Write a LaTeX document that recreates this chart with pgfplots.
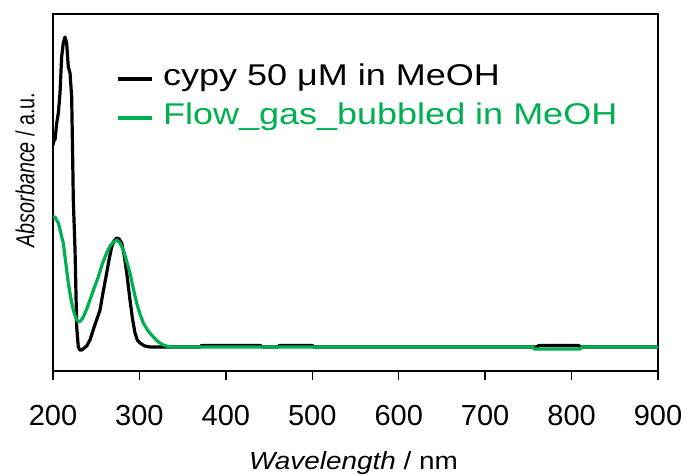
\documentclass[border=0pt]{standalone}
\usepackage{pgfplots}
\pgfplotsset{compat=1.18}
\usepackage{fontspec}
\setmainfont{Liberation Sans}
\newfontfamily\legfont[FakeStretch=1.2]{Liberation Sans}
\newfontfamily\xlabfont[FakeStretch=1.13]{Liberation Sans}
\newfontfamily\ylabfont[FakeStretch=0.76]{Liberation Sans}
\definecolor{flowgreen}{RGB}{0,176,80}

% legend samples: the invisible path lifts the cell's box so the bar sits lower
\pgfplotsset{
  leg black/.style={legend image code/.code={%
    \draw[##1, line width=4.2pt] (0pt,0pt) -- (34pt,0pt); \path (0pt,8pt);}},
  leg green/.style={legend image code/.code={%
    \draw[##1, line width=4.2pt] (0pt,0pt) -- (34pt,0pt); \path (0pt,11pt);}},
}

% UV-vis spectra (arbitrary absorbance units)
\pgfplotstableread{
nm    A
200   226
201.2 231
202.3 231
204.3 248
206.2 258
208.1 278
210.0 314
211.9 328
213.9 334
215.8 328
217.7 304
219.7 298
221.6 274
222.8 211
223.5 171
225.5 121
227.4 44
229.3 24
231   21
233.2 21
236   23
239   25
242.8 31
248   45
254.4 61
258   79
262.1 98
265   112
267.9 124
270.5 130
273.7 133
276.5 132
279.5 128
282.5 115
285.3 98
289.1 71
292   52
294.9 38
297.5 31
300.7 28
306   25
312.2 24
370   24
372   25.5
440   25.5
442   24
460   24
462   25.5
500   25.5
502   24
760   24
762   25.5
808   25.5
810   24
900   24
}\cypy

\pgfplotstableread{
nm    A
200   154
202.3 154
204   151
206.2 148
209   138
211.9 128
214.8 108
217.7 88
220.6 73
223.5 61
226.4 53
229.3 49
232   50
235.1 54
239   62
242.8 71
247.6 83
252.4 94
257   107
262.1 118
266   125
269.8 129
273.7 131
277.5 128
281.3 121
285.2 110
289.1 98
293   82
296.8 68
300.6 57
304.5 48
310   40
316.0 34
322   29
327.6 26
335.4 24
755   24
757   22
810   22
812   24
900   24
}\flowgas

\begin{document}
\begin{tikzpicture}
\begin{axis}[
  at={(53pt,103pt)}, anchor=south west,
  width=605pt, height=357pt, scale only axis,
  xmin=200, xmax=900, ymin=0, ymax=357,
  xtick={200,300,...,900}, ytick=\empty,
  xtick pos=bottom, tick align=outside, major tick length=9pt,
  axis line style={line width=1.3pt},
  tick style={line width=1.3pt, black},
  /pgf/number format/assume math mode=true,
  xticklabel style={font=\fontsize{29}{34}\selectfont, anchor=base, yshift=-45.7pt},
  xlabel={\xlabfont\fontsize{24.7}{29}\selectfont\textit{Wavelength} / nm},
  xlabel style={at={(axis description cs:0.4967,-0.2754)}, anchor=base},
  ylabel={\ylabfont\fontsize{26}{30}\selectfont\textit{Absorbance} / a.u.},
  ylabel style={at={(axis description cs:-0.0309,0.5627)}, anchor=base},
  legend cell align=left,
  legend style={at={(axis description cs:0.104,0.86)}, anchor=north west,
    draw=none, fill=none, inner sep=0pt, outer sep=0pt,
    font=\legfont\fontsize{30}{36}\selectfont,
    column sep=9pt, row sep=9pt,
    nodes={inner sep=0pt, text height=22pt, text depth=8pt}},
]
\addplot[black, line width=3.2pt, line join=round, leg black]
  table[x=nm, y=A] {\cypy};
\addlegendentry{cypy 50 μM in MeOH}
\addplot[flowgreen, line width=3.2pt, line join=round, leg green]
  table[x=nm, y=A] {\flowgas};
\addlegendentry{\textcolor{flowgreen}{Flow\_gas\_bubbled in MeOH}}
\end{axis}
\pgfresetboundingbox
\path[use as bounding box] (0,0) rectangle (685pt,474pt);
\end{tikzpicture}
\end{document}
